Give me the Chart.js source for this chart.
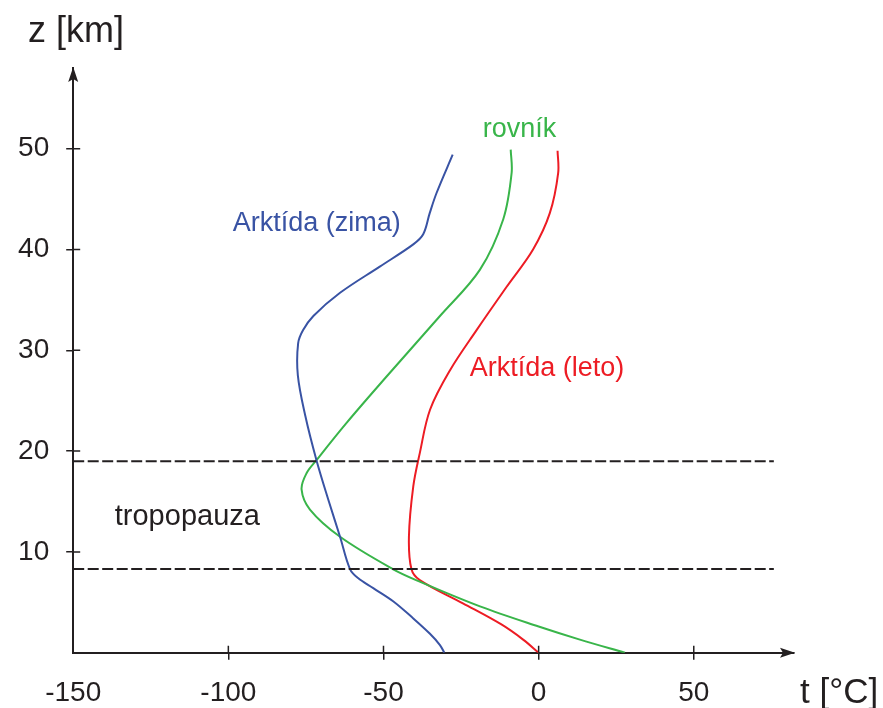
<!DOCTYPE html>
<html>
<head>
<meta charset="utf-8">
<script src="https://cdn.jsdelivr.net/npm/chart.js@4"></script>
<style>
  html, body { margin: 0; padding: 0; background: #fff; }
  #wrap { width: 883px; height: 708px; }
</style>
</head>
<body>
<div id="wrap"><canvas id="chart" width="883" height="708"></canvas></div>
<script>
// temperature profiles: altitude z [km] vs temperature t [°C]
const winterZ = [0, 0.76, 1.9, 3.4, 5.1, 6.4, 7.4, 8.3, 11.5, 15, 19.1, 23.5, 27.5, 30.7, 32, 33.4, 35.7, 38.3, 40.5, 41.5, 43.6, 45.6, 49.4];
const winterT = [-30.4, -31.8, -35.1, -40.4, -46.9, -53.3, -58.2, -60.8, -64, -67.6, -71.6, -75.2, -77.6, -77.5, -75.9, -72.6, -64, -51.2, -40.4, -37.2, -35.1, -32.9, -27.7];

const equatorZ = [0, 1.3, 2.6, 4.6, 7.05, 8.3, 11.5, 14.2, 16.2, 17.8, 19.1, 22.8, 27.4, 33.4, 38, 43, 47.6, 49.9];
const equatorT = [27.8, 13.3, 0, -18.9, -38.3, -47, -64, -73.7, -76.4, -74.8, -71.6, -61.9, -49, -31.8, -18.9, -11.4, -8.7, -9];

const summerZ = [0, 1.3, 2.8, 4.9, 7.2, 8.3, 11.5, 16.5, 19.8, 24.1, 28, 32, 36.3, 40, 43.6, 47.6, 49.8];
const summerT = [0, -5, -12, -24.4, -38.3, -41, -41.8, -40.4, -38.3, -35, -28.6, -20, -10.3, -1.8, 3.6, 6.3, 6.1];

// tropopause band
const tropopauseZ = [8.3, 19];
const tropopauseT = [-150, 75.8];

const tempTicks = [-150, -100, -50, 0, 50];
const heightTicks = [10, 20, 30, 40, 50];

const seriesNames = ['Arktída (zima)', 'rovník', 'Arktída (leto)'];
const seriesColors = ['#3953a4', '#39b54a', '#ed1c24'];

// text labels placed in data coordinates
const notes = [
  { text: 'Arktída (zima)', t: -98.6, z: 42.55, color: '#3953a4', size: 27 },
  { text: 'rovník', t: -18, z: 51.9, color: '#39b54a', size: 27 },
  { text: 'Arktída (leto)', t: -22.2, z: 28.2, color: '#ed1c24', size: 27 },
  { text: 'tropopauza', t: -136.6, z: 13.5, color: '#231f20', size: 29 }
];

const FONT = '"Liberation Sans", Arial, Helvetica, sans-serif';
const INK = '#231f20';

const pts = (ts, zs) => ts.map((t, i) => ({ x: t, y: zs[i] }));

const curve = (name, color, ts, zs) => ({
  label: name,
  data: pts(ts, zs),
  showLine: true,
  borderColor: color,
  borderWidth: 2,
  pointRadius: 0,
  tension: 0.35,
  fill: false
});

const dashed = (z) => ({
  label: 'tropopauza',
  data: tropopauseT.map(t => ({ x: t, y: z })),
  showLine: true,
  borderColor: INK,
  borderWidth: 2,
  borderDash: [11, 3.5],
  pointRadius: 0,
  fill: false
});

const decorations = {
  id: 'decorations',
  afterDraw(chart) {
    const { ctx, chartArea, scales } = chart;
    const xs = scales.x, ys = scales.y;
    ctx.save();
    ctx.strokeStyle = INK;
    ctx.fillStyle = INK;
    ctx.lineWidth = 1.5;

    // inner halves of the tick marks
    ctx.beginPath();
    tempTicks.forEach(v => {
      if (v === xs.min) return;
      const px = xs.getPixelForValue(v);
      ctx.moveTo(px, chartArea.bottom);
      ctx.lineTo(px, chartArea.bottom - 7);
    });
    heightTicks.forEach(v => {
      const py = ys.getPixelForValue(v);
      ctx.moveTo(chartArea.left, py);
      ctx.lineTo(chartArea.left + 7, py);
    });
    ctx.stroke();

    // arrow heads
    const xr = chartArea.right, yb = chartArea.bottom;
    ctx.beginPath();
    ctx.moveTo(xr + 1, yb);
    ctx.lineTo(xr - 14, yb - 5);
    ctx.lineTo(xr - 11, yb);
    ctx.lineTo(xr - 14, yb + 5);
    ctx.closePath();
    ctx.fill();

    const xl = chartArea.left, yt = chartArea.top;
    ctx.beginPath();
    ctx.moveTo(xl, yt - 1);
    ctx.lineTo(xl - 5, yt + 14);
    ctx.lineTo(xl, yt + 11);
    ctx.lineTo(xl + 5, yt + 14);
    ctx.closePath();
    ctx.fill();

    // axis titles
    ctx.textBaseline = 'alphabetic';
    ctx.textAlign = 'left';
    ctx.font = '36px ' + FONT;
    ctx.fillText('z [km]', 28, 42);
    ctx.font = '35px ' + FONT;
    ctx.fillText('t [°C]', 800, 703);

    // curve / band labels
    ctx.textBaseline = 'middle';
    notes.forEach(n => {
      ctx.font = n.size + 'px ' + FONT;
      ctx.fillStyle = n.color;
      ctx.fillText(n.text, xs.getPixelForValue(n.t), ys.getPixelForValue(n.z));
    });
    ctx.restore();
  }
};

new Chart(document.getElementById('chart'), {
  type: 'scatter',
  data: {
    datasets: [
      dashed(tropopauseZ[0]),
      dashed(tropopauseZ[1]),
      curve(seriesNames[0], seriesColors[0], winterT, winterZ),
      curve(seriesNames[1], seriesColors[1], equatorT, equatorZ),
      curve(seriesNames[2], seriesColors[2], summerT, summerZ)
    ]
  },
  options: {
    responsive: false,
    animation: false,
    layout: { padding: { top: 68, right: 89, left: 0, bottom: 0 } },
    plugins: {
      legend: { display: false },
      tooltip: { enabled: false }
    },
    scales: {
      x: {
        type: 'linear',
        position: 'bottom',
        min: -150,
        max: 82.3,
        afterFit: s => { s.height = 55.3; },
        afterBuildTicks: s => { s.ticks = tempTicks.map(v => ({ value: v })); },
        grid: {
          drawOnChartArea: false,
          drawTicks: true,
          tickLength: 7,
          lineWidth: 1.5,
          color: c => (c.tick && c.tick.value === -150) ? 'rgba(0,0,0,0)' : INK
        },
        border: { display: true, color: INK, width: 2 },
        ticks: {
          color: INK,
          padding: 17,
          maxRotation: 0,
          font: { size: 28, family: FONT }
        }
      },
      y: {
        type: 'linear',
        position: 'left',
        min: 0,
        max: 58,
        afterFit: s => { s.width = 73.2; },
        afterBuildTicks: s => { s.ticks = heightTicks.map(v => ({ value: v })); },
        grid: {
          drawOnChartArea: false,
          drawTicks: true,
          tickLength: 7,
          lineWidth: 1.5,
          color: INK
        },
        border: { display: true, color: INK, width: 2 },
        ticks: {
          color: INK,
          padding: 17,
          font: { size: 28, family: FONT }
        }
      }
    }
  },
  plugins: [decorations]
});
</script>
</body>
</html>
